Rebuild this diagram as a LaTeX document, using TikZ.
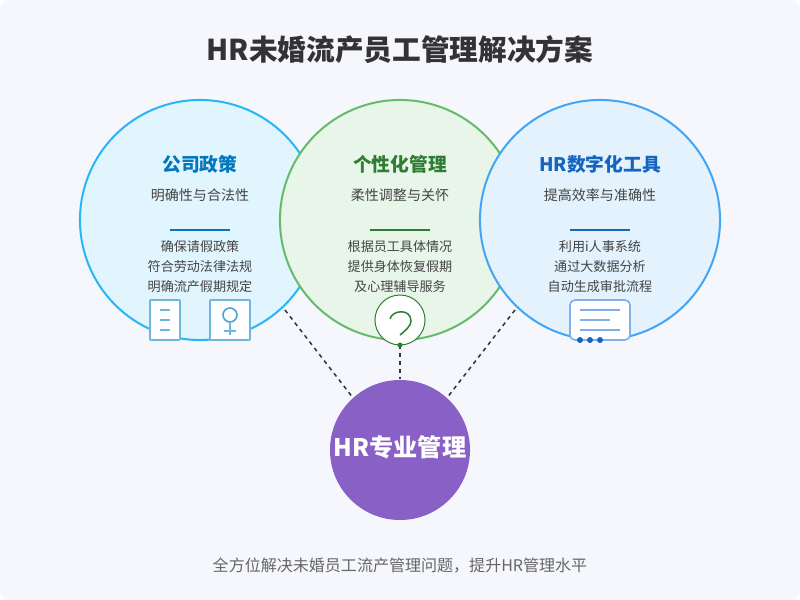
\documentclass[tikz,border=0pt]{standalone}
\usepackage{fontspec}
\setmainfont{Noto Sans CJK SC}
\usepackage{tikz}
\usetikzlibrary{positioning}
\definecolor{pagebg}{HTML}{F5F7FC}
\definecolor{blueline}{HTML}{29B6F6}
\definecolor{bluefill}{HTML}{E1F5FE}
\definecolor{greenline}{HTML}{66BB6A}
\definecolor{greenfill}{HTML}{E8F5E9}
\definecolor{toolline}{HTML}{42A5F5}
\definecolor{toolfill}{HTML}{E3F2FD}
\definecolor{purplefill}{HTML}{8860C6}
\definecolor{titlecol}{HTML}{333333}
\definecolor{bodycol}{HTML}{444444}
\definecolor{footcol}{HTML}{666666}
\definecolor{headblue}{HTML}{0277BD}
\definecolor{headgreen}{HTML}{2E7D32}
\definecolor{headtool}{HTML}{1565C0}
\definecolor{iconblue}{HTML}{6FB5E0}
\definecolor{icontool}{HTML}{7FB0EA}
\tikzset{
    px/.style={x=0.0125cm,y=-0.0125cm},
    bigcircle/.style={circle, minimum size=3cm, inner sep=0pt, line width=0.025cm},
    heading/.style={font=\fontsize{6.67}{8}\selectfont\bfseries},
    subhead/.style={font=\fontsize{4.98}{6}\selectfont, text=bodycol},
    bodytext/.style={font=\fontsize{4.65}{7.11}\selectfont, text=bodycol, align=center},
    iconbox/.style={draw=iconblue, fill=white, line width=0.02cm, rounded corners=0.01cm},
    iconline/.style={line width=0.02cm},
    linkline/.style={line width=0.01875cm, draw=titlecol, dash pattern=on 0.05cm off 0.05cm},
}
\begin{document}
\begin{tikzpicture}[px]
  \path[use as bounding box, fill=pagebg, rounded corners=0.12cm] (0,0) rectangle (800,600);
  \node[font=\fontsize{10.2}{12}\selectfont\bfseries, text=titlecol] (title) at (400,50) {HR未婚流产员工管理解决方案};

  % circles
  \node[bigcircle, draw=blueline, fill=bluefill]   (policy) at (200,220) {};
  \node[bigcircle, draw=greenline, fill=greenfill] (care)   at (400,220) {};
  \node[bigcircle, draw=toolline, fill=toolfill]   (tools)  at (600,220) {};
  \node[circle, minimum size=1.75cm, inner sep=0pt, fill=purplefill] (hr) at (400,450) {};
  \node[font=\fontsize{8.6}{10}\selectfont\bfseries, text=white] (hrlabel) at (400,447) {HR专业管理};

  % links
  \coordinate (policyend) at (285,310);
  \coordinate (toolsend)  at (515,310);
  \coordinate (careend)   at (400,345);
  \draw[linkline] (policyend) -- (hr.132);
  \draw[linkline] (careend)   -- (hr.90);
  \draw[linkline] (toolsend)  -- (hr.48);

  % left circle
  \node[heading, text=headblue] (policyhead) at (200,164) {公司政策};
  \node[subhead] (policysub) at (200,195) {明确性与合法性};
  \coordinate (policyrulea) at (170,230);
  \coordinate (policyruleb) at (230,230);
  \draw[headblue, line width=0.025cm] (policyrulea) -- (policyruleb);
  \node[bodytext] (policybody) at (200,267) {确保请假政策\\符合劳动法律法规\\明确流产假期规定};

  % middle circle
  \node[heading, text=headgreen] (carehead) at (400,164) {个性化管理};
  \node[subhead] (caresub) at (400,195) {柔性调整与关怀};
  \coordinate (carerulea) at (370,230);
  \coordinate (careruleb) at (430,230);
  \draw[headgreen, line width=0.025cm] (carerulea) -- (careruleb);
  \node[bodytext] (carebody) at (400,267) {根据员工具体情况\\提供身体恢复假期\\及心理辅导服务};

  % right circle
  \node[heading, text=headtool] (toolshead) at (600,164) {HR数字化工具};
  \node[subhead] (toolssub) at (600,195) {提高效率与准确性};
  \coordinate (toolsrulea) at (570,230);
  \coordinate (toolsruleb) at (630,230);
  \draw[headtool, line width=0.025cm] (toolsrulea) -- (toolsruleb);
  \node[bodytext] (toolsbody) at (600,267) {利用i人事系统\\通过大数据分析\\自动生成审批流程};

  % icons
  \draw[iconbox] (150,300) rectangle (180,340);
  \foreach \y in {310,320,330}
    \draw[iconline, iconblue] (160,\y) -- (170,\y);
  \draw[iconbox] (210,300) rectangle (250,340);
  \draw[iconline, iconblue!70!headblue] (230,315) circle (7);
  \draw[iconline, iconblue] (230,322) -- (230,335) (224,331) -- (236,331);

  \node[circle, minimum size=0.625cm, inner sep=0pt, draw=headgreen, fill=white, line width=0.0125cm] (careicon) at (400,320) {};
  \draw[line width=0.01875cm, headgreen] (390,319) .. controls (392,310) and (411,308) .. (411,321) .. controls (411,326) and (405,331) .. (400,335);
  \fill[headgreen] (400,345) circle (2.5);

  \draw[draw=icontool, fill=white, line width=0.02cm, rounded corners=0.0625cm] (570,300) rectangle (630,340);
  \foreach \y/\xe in {310/620,320/610,330/620}
    \draw[iconline, icontool] (580,\y) -- (\xe,\y);
  \foreach \x in {580,590,600}
    \fill[headtool] (\x,340) circle (3);

  \node[font=\fontsize{5.7}{7}\selectfont, text=footcol] (foot) at (400,565.5) {全方位解决未婚员工流产管理问题，提升HR管理水平};
\end{tikzpicture}
\end{document}
